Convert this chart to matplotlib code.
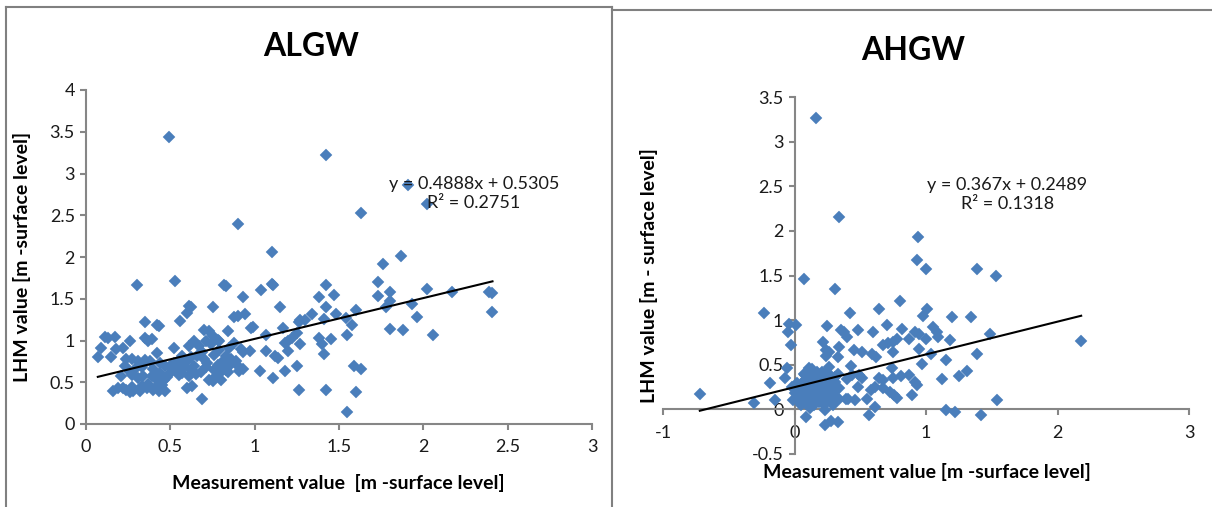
import matplotlib
matplotlib.use("Agg")
import matplotlib.pyplot as plt
from matplotlib.lines import Line2D

plt.rcParams['font.family'] = ['Lato', 'DejaVu Sans']

# ---------------- data ----------------
algw_x = [0.49, 1.42, 1.91, 2.02, 1.63, 0.90, 1.10, 1.87, 1.76, 0.30, 0.53, 0.82, 0.83, 1.11, 1.10,
          1.42, 1.73, 1.04, 2.02, 2.17, 1.80, 2.39, 2.41, 1.47, 0.93, 1.38, 1.73, 1.80, 1.93, 0.62,
          0.61, 0.75, 1.15, 1.42, 1.78, 2.41, 0.60, 0.94, 1.34, 1.48, 1.60, 0.88, 0.90, 1.96, 1.54,
          1.41, 0.35, 0.56, 1.27, 1.26, 1.30, 1.58, 0.43, 0.42, 0.99, 0.98, 1.17, 0.84, 0.70, 0.73,
          1.80, 1.88, 0.11, 0.13, 0.17, 0.26, 0.35, 0.39, 0.37, 1.07, 1.25, 2.06, 1.55, 1.45, 0.78,
          0.75, 1.18, 1.27, 1.40, 1.38, 1.20, 1.22, 0.09, 0.22, 0.18, 0.52, 0.97, 0.93, 1.07, 1.20,
          0.07, 0.15, 0.42, 1.41, 1.12, 1.14, 1.59, 1.63, 1.25, 1.03, 1.18, 1.11, 1.26, 1.42, 1.60,
          1.55, 0.69,
          0.64, 0.61, 0.67, 0.79, 0.79, 0.24, 0.27, 0.31, 0.35, 0.38, 0.23, 0.44, 0.47, 0.52, 0.56,
          0.60, 0.54, 0.50, 0.62, 0.72, 0.78, 0.82, 0.83, 0.77, 0.80, 0.21, 0.27, 0.31, 0.34, 0.39,
          0.42, 0.45, 0.16, 0.19, 0.24, 0.28, 0.32, 0.36, 0.40, 0.43, 0.47, 0.60, 0.63, 0.75, 0.73,
          0.86, 0.90, 0.93, 0.91, 0.86, 0.83, 0.66, 0.70, 0.58, 0.64, 0.55, 0.48, 0.44, 0.40, 0.33,
          0.29, 0.26, 0.37, 0.33, 0.27, 0.22, 0.26, 0.42, 0.46, 0.50, 0.57, 0.62, 0.69, 0.71, 0.74,
          0.76, 0.82, 0.84, 0.80, 0.76, 0.71, 0.68, 0.65, 0.61, 0.57, 0.53, 0.85, 0.88, 0.89, 0.92]
algw_y = [3.44, 3.22, 2.86, 2.64, 2.53, 2.40, 2.06, 2.01, 1.92, 1.67, 1.71, 1.66, 1.65, 1.66, 1.68,
          1.67, 1.70, 1.61, 1.62, 1.58, 1.58, 1.58, 1.57, 1.55, 1.52, 1.52, 1.53, 1.47, 1.44, 1.40,
          1.41, 1.40, 1.40, 1.40, 1.40, 1.34, 1.33, 1.32, 1.32, 1.32, 1.36, 1.28, 1.29, 1.28, 1.27,
          1.26, 1.22, 1.23, 1.25, 1.22, 1.24, 1.18, 1.17, 1.18, 1.16, 1.15, 1.15, 1.11, 1.13, 1.11,
          1.14, 1.13, 1.04, 1.03, 1.04, 1.00, 1.03, 1.02, 1.00, 1.07, 1.09, 1.06, 1.06, 1.02, 1.01,
          1.05, 0.97, 0.96, 0.96, 1.03, 1.00, 1.03, 0.91, 0.91, 0.90, 0.91, 0.88, 0.86, 0.87, 0.87,
          0.80, 0.80, 0.85, 0.84, 0.81, 0.79, 0.70, 0.66, 0.70, 0.63, 0.63, 0.55, 0.41, 0.41, 0.38,
          0.14, 0.30,
          0.99, 0.93, 0.93, 0.99, 0.89, 0.78, 0.78, 0.76, 0.77, 0.76, 0.69, 0.73, 0.69, 0.73, 0.75,
          0.75, 0.65, 0.61, 0.65, 0.73, 0.71, 0.77, 0.65, 0.57, 0.53, 0.57, 0.59, 0.55, 0.57, 0.58,
          0.53, 0.47, 0.39, 0.43, 0.41, 0.39, 0.39, 0.43, 0.41, 0.39, 0.39, 0.43, 0.45, 0.51, 0.53,
          0.72, 0.70, 0.66, 0.63, 0.78, 0.81, 0.82, 0.78, 0.70, 0.70, 0.59, 0.56, 0.61, 0.66, 0.68,
          0.66, 0.62, 0.48, 0.45, 0.44, 0.43, 0.38, 0.46, 0.53, 0.70, 0.82, 0.80, 0.86, 1.00, 0.96,
          0.83, 0.69, 0.62, 0.62, 0.65, 0.68, 0.62, 0.60, 0.57, 0.61, 0.68, 0.91, 0.97, 0.76, 0.90]

ahgw_x = [0.16, 0.34, 0.94, 0.93, 1.00, 1.39, 1.53, 0.07, 0.31, 0.80, -0.23, 0.42, 0.64, 1.01, 0.98,
          1.20, 1.34, -0.04, 0.01, -0.05, -0.03, 0.25, 0.35, 0.38, 0.40, 0.48, 0.60, 0.70, 0.82, 0.92,
          0.95, 1.05, 1.08, 1.09, 1.18, 1.49, 0.22, 0.26, 0.24, 0.34, 0.45, 0.51, 0.59, 0.62, 0.67,
          0.71, 0.75, 0.78, 0.75, 0.87, 0.95, 1.00, 1.04, 1.39, 0.33, 0.24, -0.06, -0.07, -0.19, -0.15,
          -0.31, -0.72, 1.15, 1.25, 1.31, 1.12, 0.97, 0.87, 0.92, 0.93, 0.81, 0.75, 0.74, 0.89, 0.78,
          0.76, 0.73, 0.67, 0.64, 0.67, 0.61, 0.58, 0.55, 0.51, 0.49, 0.48, 0.46, 0.43, 0.44, 0.40,
          0.39, 0.41, 0.34, 0.31, 0.33, 1.54, 1.15, 1.22, 1.42, 0.57, 0.61, 0.09, 0.23, 0.28, 0.33,
          0.23, 2.18,
          0.02, 0.03, 0.04, 0.05, 0.06, 0.07, 0.08, 0.09, 0.10, 0.11, 0.12, 0.13, 0.13, 0.14, 0.15,
          0.16, 0.17, 0.18, 0.19, 0.20, 0.21, 0.22, 0.23, 0.24, 0.25, 0.26, 0.27, 0.28, 0.29, 0.30,
          0.31, 0.32, 0.34, 0.08, 0.05, 0.10, 0.12, 0.14, 0.16, 0.18, 0.20, 0.22, 0.24, 0.26, 0.00,
          -0.02, -0.01, 0.07, 0.11, 0.15, 0.19, 0.21, 0.23, 0.27, 0.29, 0.06, 0.09, 0.17, 0.13, 0.25,
          0.02]
ahgw_y = [3.27, 2.15, 1.93, 1.67, 1.57, 1.57, 1.50, 1.46, 1.35, 1.21, 1.08, 1.08, 1.12, 1.12, 1.05,
          1.03, 1.03, 0.96, 0.95, 0.87, 0.72, 0.93, 0.89, 0.87, 0.81, 0.89, 0.87, 0.95, 0.90, 0.87,
          0.85, 0.92, 0.87, 0.81, 0.78, 0.84, 0.75, 0.64, 0.66, 0.70, 0.66, 0.64, 0.62, 0.59, 0.72,
          0.74, 0.75, 0.79, 0.64, 0.79, 0.68, 0.79, 0.62, 0.62, 0.59, 0.60, 0.46, 0.35, 0.29, 0.10,
          0.07, 0.17, 0.55, 0.37, 0.43, 0.34, 0.51, 0.38, 0.31, 0.27, 0.37, 0.35, 0.46, 0.16, 0.13,
          0.16, 0.20, 0.33, 0.35, 0.24, 0.25, 0.22, 0.12, 0.35, 0.39, 0.25, 0.10, 0.49, 0.38, 0.34,
          0.12, 0.12, 0.12, 0.31, 0.40, 0.10, -0.01, -0.03, -0.06, -0.06, 0.03, -0.08, -0.17, -0.13, -0.14,
          -0.01, 0.77,
          0.12, 0.20, 0.26, 0.15, 0.30, 0.08, 0.38, 0.22, 0.42, 0.18, 0.33, 0.05, 0.45, 0.25, 0.12,
          0.38, 0.20, 0.30, 0.08, 0.16, 0.42, 0.26, 0.10, 0.35, 0.20, 0.48, 0.14, 0.28, 0.05, 0.20,
          0.36, 0.10, 0.24, 0.10, 0.05, 0.30, 0.02, 0.36, 0.28, 0.14, 0.34, 0.06, 0.22, 0.30, 0.18,
          0.25, 0.10, 0.40, 0.46, 0.05, 0.24, 0.12, 0.40, 0.38, 0.15, 0.20, 0.34, 0.42, 0.14, 0.08,
          0.30]

# trendline coefficients as printed on the chart
algw_slope, algw_icpt, algw_r2 = 0.4888, 0.5305, 0.2751
ahgw_slope, ahgw_icpt, ahgw_r2 = 0.367, 0.2489, 0.1318

algw_xticks = [0, 0.5, 1, 1.5, 2, 2.5, 3]
algw_yticks = [0, 0.5, 1, 1.5, 2, 2.5, 3, 3.5, 4]
ahgw_xticks = [-1, 0, 1, 2, 3]
ahgw_yticks = [-0.5, 0, 0.5, 1, 1.5, 2, 2.5, 3, 3.5]

# ---------------- figure ----------------
W, H = 1212, 507
fig = plt.figure(figsize=(W / 100, H / 100), dpi=100)

def fx(px):
    return px / W

def fy(py):
    return 1 - py / H

AXC = '#868686'
MC = '#4A7EBB'
TXT = '#1a1a1a'
MS = 6.2

def fmt(v):
    return '%g' % v

def style(ax, xticks, yticks):
    for s in ['top', 'right']:
        ax.spines[s].set_visible(False)
    for s in ['left', 'bottom']:
        ax.spines[s].set_color(AXC)
        ax.spines[s].set_linewidth(1.5)
    ax.set_xticks(xticks)
    ax.set_yticks(yticks)
    ax.set_xticklabels([fmt(v) for v in xticks])
    ax.set_yticklabels([fmt(v) for v in yticks])
    ax.tick_params(axis='both', direction='out', length=4, width=1.5, color=AXC,
                   labelsize=13, labelcolor=TXT, pad=4)
    ax.patch.set_alpha(0)

# ----- left panel -----
axL = fig.add_axes([fx(86), fy(424), fx(592 - 86), (424 - 90) / H])
axL.plot(algw_x, algw_y, linestyle='none', marker='D', ms=MS, mfc=MC, mec=MC, mew=0.3, zorder=3)
xl0, xl1 = min(algw_x), max(algw_x)
axL.plot([xl0, xl1], [algw_slope * xl0 + algw_icpt, algw_slope * xl1 + algw_icpt],
         color='black', lw=1.5, zorder=4)
axL.set_xlim(0, 3)
axL.set_ylim(0, 4)
style(axL, algw_xticks, algw_yticks)
axL.tick_params(axis='x', pad=7)
axL.text(2.30, 2.76, 'y = %.4fx + %.4f\nR² = %.4f' % (algw_slope, algw_icpt, algw_r2),
         ha='center', va='center', fontsize=13, color=TXT, linespacing=1.2, zorder=5)
axL.set_ylabel('LHM value [m -surface level]', fontsize=14, fontweight='bold', color='black')
axL.yaxis.set_label_coords(-0.109, 0.5)

# ----- right panel -----
axR = fig.add_axes([fx(663), fy(454), fx(1189 - 663), (454 - 97) / H])
axR.plot(ahgw_x, ahgw_y, linestyle='none', marker='D', ms=MS, mfc=MC, mec=MC, mew=0.3, zorder=3)
xr0, xr1 = min(ahgw_x), max(ahgw_x)
axR.plot([xr0, xr1], [ahgw_slope * xr0 + ahgw_icpt, ahgw_slope * xr1 + ahgw_icpt],
         color='black', lw=1.5, zorder=4)
axR.set_xlim(-1, 3)
axR.set_ylim(-0.5, 3.5)
axR.spines['left'].set_position(('data', 0))
axR.spines['bottom'].set_position(('data', 0))
style(axR, ahgw_xticks, ahgw_yticks)
axR.tick_params(axis='x', pad=7)
axR.text(1.62, 2.41, 'y = %.3fx + %.4f\nR² = %.4f' % (ahgw_slope, ahgw_icpt, ahgw_r2),
         ha='center', va='center', fontsize=13, color=TXT, linespacing=1.2, zorder=5)
axR.set_ylabel('LHM value [m - surface level]', fontsize=14, fontweight='bold', color='black')
axR.yaxis.set_label_coords(-0.01, 0.5)

# titles and x labels
fig.text(fx(311), fy(47), 'ALGW', ha='center', va='center', fontsize=23, fontweight='bold')
fig.text(fx(913), fy(50), 'AHGW', ha='center', va='center', fontsize=23, fontweight='bold')
fig.text(fx(338), fy(483), 'Measurement value  [m -surface level]', ha='center', va='center',
         fontsize=14, fontweight='bold')
fig.text(fx(927), fy(472), 'Measurement value [m -surface level]', ha='center', va='center',
         fontsize=14, fontweight='bold')

# panel frames
FC = '#808080'
for (xs, ys) in [([6, 6], [507, 7]), ([6, 612], [7, 7]), ([612, 612], [7, 507]),
                 ([612, 1211], [10, 10])]:
    fig.add_artist(Line2D([fx(x) for x in xs], [fy(y) for y in ys], color=FC, lw=1.5))

fig.savefig('out.png', dpi=100)
